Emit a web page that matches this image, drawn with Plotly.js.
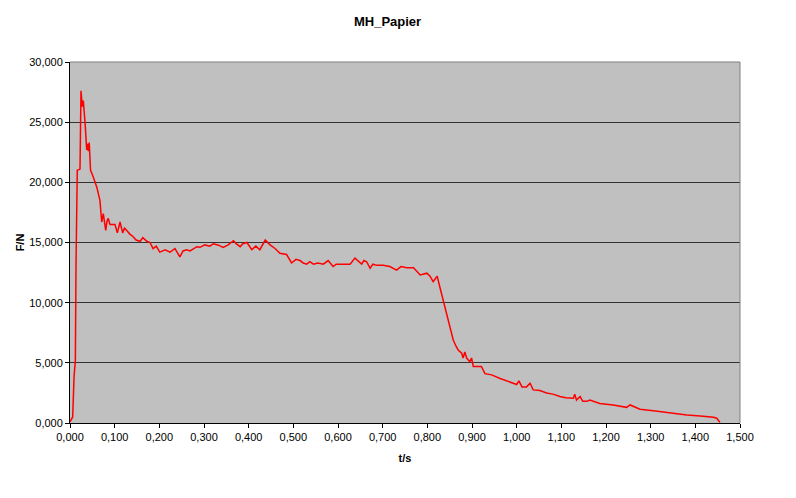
<!DOCTYPE html>
<html>
<head>
<meta charset="utf-8">
<script src="https://cdn.plot.ly/plotly-3.0.1.min.js"></script>
<style>html,body{margin:0;padding:0;background:#fff;}#chart{width:796px;height:498px;}</style>
</head>
<body>
<div id="chart"></div>
<script>
var chartTitle = "MH_Papier";
var xTitle = "t/s";
var yTitle = "F/N";

var timeS = [0.000,0.002,0.006,0.009,0.012,0.0134,0.015,0.0163,0.0224,0.0246,0.0275,0.0298,0.0336,0.0374,0.039,0.041,0.043,0.046,0.0515,0.060,0.067,0.071,0.0745,0.077,0.080,0.083,0.0857,0.0895,0.096,0.1007,0.106,0.112,0.118,0.122,0.127,0.134,0.141,0.148,0.157,0.163,0.172,0.179,0.186,0.193,0.201,0.213,0.224,0.235,0.246,0.253,0.261,0.269,0.284,0.291,0.302,0.313,0.321,0.331,0.343,0.354,0.366,0.372,0.381,0.387,0.396,0.407,0.416,0.425,0.437,0.448,0.459,0.470,0.485,0.490,0.496,0.506,0.515,0.522,0.530,0.537,0.545,0.555,0.567,0.578,0.589,0.596,0.604,0.616,0.627,0.638,0.645,0.653,0.658,0.664,0.672,0.678,0.687,0.701,0.716,0.731,0.741,0.754,0.769,0.777,0.784,0.799,0.806,0.813,0.822,0.828,0.836,0.843,0.851,0.858,0.864,0.869,0.877,0.880,0.884,0.888,0.895,0.899,0.903,0.921,0.929,0.944,0.963,0.985,1.000,1.005,1.012,1.022,1.030,1.037,1.052,1.067,1.081,1.097,1.110,1.127,1.130,1.134,1.142,1.148,1.157,1.164,1.186,1.216,1.231,1.246,1.254,1.276,1.306,1.336,1.357,1.381,1.411,1.433,1.441,1.448,1.455];

var forceN = [0.10,0.25,0.5,3.8,5.2,13.0,20.2,21.0,21.1,27.6,26.3,26.8,25.0,22.7,23.2,22.6,23.3,21.0,20.5,19.6,18.5,16.7,17.4,16.5,16.0,16.8,17.0,16.5,16.5,16.5,15.8,16.7,15.8,16.2,16.0,15.7,15.5,15.2,15.1,15.4,15.1,15.0,14.5,14.7,14.2,14.4,14.2,14.5,13.8,14.3,14.4,14.3,14.65,14.6,14.8,14.7,14.9,14.8,14.6,14.8,15.15,14.9,14.65,14.9,15.0,14.4,14.7,14.4,15.2,14.8,14.5,14.1,14.0,13.7,13.3,13.6,13.5,13.3,13.2,13.4,13.2,13.3,13.2,13.5,13.0,13.2,13.2,13.2,13.2,13.7,13.5,13.2,13.5,13.4,12.85,13.2,13.1,13.1,13.0,12.7,13.0,12.9,12.9,12.6,12.3,12.45,12.2,11.75,12.2,11.3,10.1,9.0,8.0,6.9,6.4,6.07,5.8,5.4,5.9,5.4,5.1,5.4,4.7,4.7,4.1,4.0,3.7,3.4,3.2,3.5,3.0,3.0,3.3,2.75,2.7,2.5,2.4,2.2,2.1,2.05,2.4,1.9,2.2,1.8,1.8,1.9,1.63,1.5,1.4,1.3,1.5,1.14,1.02,0.86,0.8,0.66,0.58,0.52,0.47,0.4,0.05];

var trace = {
  x: timeS, y: forceN, type: 'scatter', mode: 'lines',
  line: {color: '#ff0000', width: 1.5},
  hoverinfo: 'x+y'
};

var font = {family: 'Arial, "Liberation Sans", sans-serif', size: 11, color: '#000'};

var layout = {
  width: 796, height: 498,
  separators: ',.',
  paper_bgcolor: '#ffffff',
  plot_bgcolor: '#c0c0c0',
  margin: {l: 70, r: 56, t: 62, b: 75, pad: 0},
  showlegend: false,
  font: font,
  title: {text: '<b>' + chartTitle + '</b>', font: {family: font.family, size: 13, color: '#000'},
          x: 0.474, xref: 'paper', xanchor: 'center', y: 0.956, yref: 'container', yanchor: 'middle'},
  xaxis: {
    range: [0, 1.5], dtick: 0.1, tick0: 0, tickformat: '.3f',
    showgrid: false, zeroline: false,
    showline: true, linecolor: '#000', linewidth: 1,
    ticks: 'outside', ticklen: 4, tickcolor: '#000', tickwidth: 1,
    tickfont: font,
    title: {text: '<b>' + xTitle + '</b>', font: {family: font.family, size: 11, color: '#000'}, standoff: 12}
  },
  yaxis: {
    range: [0, 30], dtick: 5, tick0: 0, tickformat: '.3f',
    showgrid: true, gridcolor: '#333333', gridwidth: 1, zeroline: false,
    showline: true, linecolor: '#000', linewidth: 1,
    ticks: 'outside', ticklen: 4, tickcolor: '#000', tickwidth: 1,
    tickfont: font,
    title: {text: '<b>' + yTitle + '</b>', font: {family: font.family, size: 11, color: '#000'}, standoff: 2}
  },
  shapes: [
    {type: 'line', xref: 'paper', yref: 'paper', x0: 0, x1: 1, y0: 1, y1: 1, line: {color: '#808080', width: 1}},
    {type: 'line', xref: 'paper', yref: 'paper', x0: 1, x1: 1, y0: 0, y1: 1, line: {color: '#808080', width: 1}}
  ]
};

Plotly.newPlot('chart', [trace], layout, {displayModeBar: false, staticPlot: true});
</script>
</body>
</html>
